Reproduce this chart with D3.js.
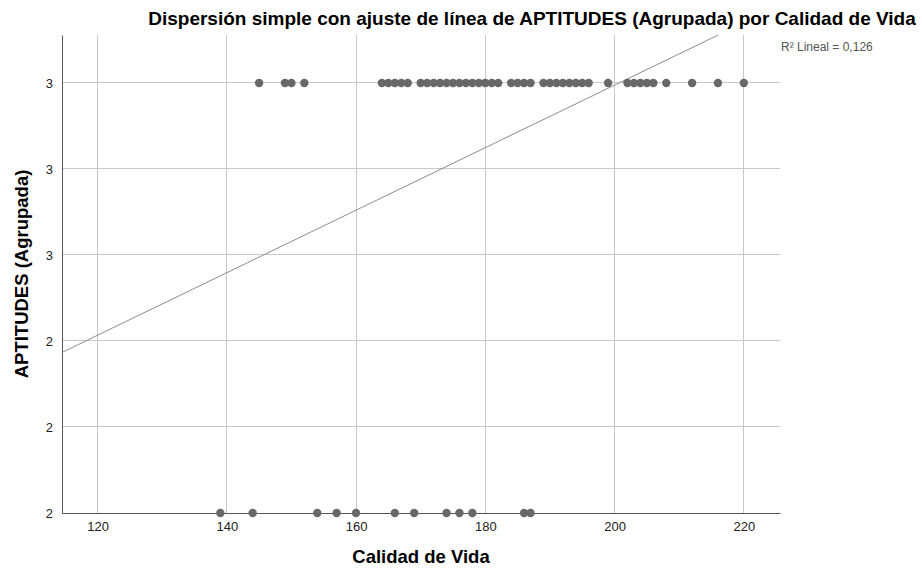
<!DOCTYPE html>
<html><head><meta charset="utf-8">
<script src="https://cdnjs.cloudflare.com/ajax/libs/d3/7.8.5/d3.min.js"></script>
<style>body{margin:0;background:#fff} text{font-family:"Liberation Sans",Arial,sans-serif}</style>
</head><body>
<svg id="c" width="922" height="569"></svg>
<script>
// Calidad de Vida values for cases with APTITUDES (Agrupada) = 3
const topRowX = [145,149,150,152,164,165,166,167,168,170,171,172,173,174,175,176,177,178,179,180,181,182,184,185,186,187,189,190,191,192,193,194,195,196,199,202,203,204,205,206,208,212,216,220];
// Calidad de Vida values for cases with APTITUDES (Agrupada) = 2
const bottomRowX = [139,144,154,157,160,166,169,174,176,178,186,187];
const topRowY = 3;
const bottomRowY = 2;
const xTicks = [120,140,160,180,200,220];
const yTicks = [2,2.2,2.4,2.6,2.8,3];
const yTickLabels = ["2","2","2","3","3","3"];
const xDomain = [114.5, 225.6];
const yDomain = [2, 3.1116];
const fitIntercept = 1.541;
const fitSlope = 0.00727;
const r2Label = "R\u00B2 Lineal = 0,126";
const titleText = "Dispersión simple con ajuste de línea de APTITUDES (Agrupada) por Calidad de Vida";
const xTitle = "Calidad de Vida";
const yTitle = "APTITUDES (Agrupada)";

const m = {left:62, right:780, top:35, bottom:513};
const svg = d3.select("#c");
const x = d3.scaleLinear().domain(xDomain).range([m.left, m.right]);
const y = d3.scaleLinear().domain(yDomain).range([m.bottom, m.top]);

// gridlines
svg.append("g").selectAll("line").data(xTicks).join("line")
  .attr("x1", d=>x(d)).attr("x2", d=>x(d)).attr("y1", m.top).attr("y2", m.bottom)
  .attr("stroke", "#c8c8c8").attr("stroke-width", 1).attr("shape-rendering","crispEdges");
svg.append("g").selectAll("line").data(yTicks).join("line")
  .attr("x1", m.left).attr("x2", m.right).attr("y1", d=>y(d)).attr("y2", d=>y(d))
  .attr("stroke", "#c8c8c8").attr("stroke-width", 1).attr("shape-rendering","crispEdges");

// axes
const xAxis = d3.axisBottom(x).tickValues(xTicks).tickSize(0).tickPadding(9);
const gx = svg.append("g").attr("transform", `translate(0,${m.bottom})`).call(xAxis);
gx.select(".domain").attr("stroke", "#555");
gx.selectAll("text").attr("font-size", 13).attr("fill", "#222").style("font-family", "'Liberation Sans', Arial, sans-serif");
const yAxis = d3.axisLeft(y).tickValues(yTicks).tickSize(0).tickPadding(9).tickFormat((d,i)=>yTickLabels[i]);
const gy = svg.append("g").attr("transform", `translate(${m.left},0)`).call(yAxis);
gy.select(".domain").attr("stroke", "#555");
gy.selectAll("text").attr("font-size", 13).attr("fill", "#222").style("font-family", "'Liberation Sans', Arial, sans-serif");

// fit line
const yMax = yDomain[1];
const xEnd = Math.min(xDomain[1], (yMax - fitIntercept) / fitSlope);
const fitPts = [xDomain[0], xEnd].map(v => [v, fitIntercept + fitSlope * v]);
svg.append("path").attr("d", d3.line().x(d=>x(d[0])).y(d=>y(d[1]))(fitPts))
  .attr("stroke", "#8c8c8c").attr("stroke-width", 1).attr("fill", "none");

// points
const pts = topRowX.map(v=>({x:v, y:topRowY})).concat(bottomRowX.map(v=>({x:v, y:bottomRowY})));
svg.append("g").selectAll("circle").data(pts).join("circle")
  .attr("cx", d=>x(d.x)).attr("cy", d=>y(d.y)).attr("r", 4.2)
  .attr("fill", "#686868");

// titles
svg.append("text").attr("x", 532).attr("y", 25).attr("text-anchor", "middle")
  .attr("font-size", 19).attr("font-weight", "bold").attr("fill", "#000").text(titleText);
svg.append("text").attr("x", 421).attr("y", 563).attr("text-anchor", "middle")
  .attr("font-size", 18.5).attr("font-weight", "bold").attr("fill", "#000").text(xTitle);
svg.append("text").attr("transform", "translate(28,274) rotate(-90)").attr("text-anchor", "middle")
  .attr("font-size", 18.5).attr("font-weight", "bold").attr("fill", "#000").text(yTitle);
svg.append("text").attr("x", 781).attr("y", 51)
  .attr("font-size", 12).attr("fill", "#555").text(r2Label);
</script>
</body></html>
